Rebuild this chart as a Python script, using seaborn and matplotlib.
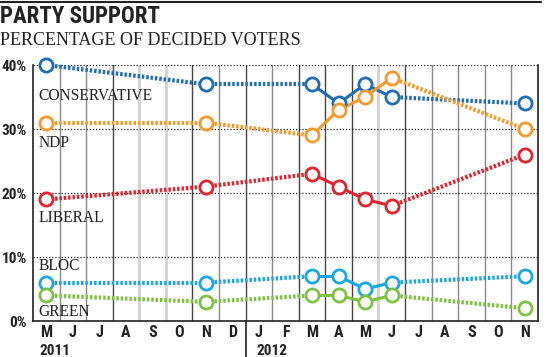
import matplotlib
matplotlib.use("Agg")
import matplotlib.pyplot as plt
import matplotlib.transforms as mtransforms
import pandas as pd
import seaborn as sns

# poll months, indexed from May 2011 (0) to Nov 2012 (18)
poll_months = [0, 6, 10, 11, 12, 13, 18]

conservative = [40, 37, 37, 34, 37, 35, 34]
ndp = [31, 31, 29, 33, 35, 38, 30]
liberal = [19, 21, 23, 21, 19, 18, 26]
bloc = [6, 6, 7, 7, 5, 6, 7]
green = [4, 3, 4, 4, 3, 4, 2]

parties = ["CONSERVATIVE", "NDP", "LIBERAL", "BLOC", "GREEN"]
colors = ["#1f6db3", "#f39a2b", "#e0242f", "#1ca7e0", "#7dc242"]

month_labels = ["M", "J", "J", "A", "S", "O", "N", "D",
                "J", "F", "M", "A", "M", "J", "J", "A", "S", "O", "N"]
year_labels = ["2011", "2012"]
y_ticks = [0, 10, 20, 30, 40]

sans = ["Roboto Condensed", "Liberation Sans Narrow", "Roboto", "DejaVu Sans"]
serif = ["Liberation Serif", "DejaVu Serif"]

sns.set_style("white")
plt.rcParams["font.family"] = sans

rows = []
for party, vals in zip(parties, [conservative, ndp, liberal, bloc, green]):
    for m, v in zip(poll_months, vals):
        rows.append({"party": party, "x": m + 0.5, "month": m, "value": v})
df = pd.DataFrame(rows)

fig = plt.figure(figsize=(5.5, 3.57), dpi=100)
ax = fig.add_axes([0.06, 0.1008, 0.918, 0.717])

# vertical month dividers
dark = {3, 6, 8, 10, 11, 12, 14}
light = {4, 5, 13}
for k in range(1, 19):
    if k in light:
        ax.axvline(k, color="#d4d4d4", lw=2.2, zorder=0)
    elif k in dark:
        ax.axvline(k, color="#444444", lw=1.0, zorder=0)
    else:
        ax.axvline(k, color="#8a8a8a", lw=1.0, zorder=0)

for yv in y_ticks[1:]:
    ax.axhline(yv, color="#222222", lw=0.9, ls=(0, (1, 1.5)), zorder=0.5)

# lines: solid between consecutive months, dotted across gaps
for party, col in zip(parties, colors):
    sub = df[df["party"] == party].reset_index(drop=True)
    for i in range(len(sub) - 1):
        seg = sub.iloc[i:i + 2]
        gap = seg["month"].iloc[1] - seg["month"].iloc[0]
        if gap == 1:
            sns.lineplot(data=seg, x="x", y="value", color=col, lw=2.2,
                         ax=ax, zorder=2, clip_on=False)
        else:
            sns.lineplot(data=seg, x="x", y="value", color=col, lw=3.0,
                         ax=ax, zorder=2, clip_on=False,
                         dashes=False, linestyle=(0, (0.6, 0.45)))
    sns.scatterplot(data=sub, x="x", y="value", ax=ax, s=90, marker="o",
                    facecolor="white", edgecolor=col, linewidth=2.0,
                    zorder=3, clip_on=False)

label_y = {"CONSERVATIVE": 35.2, "NDP": 27.8, "LIBERAL": 16.1,
           "BLOC": 8.6, "GREEN": 1.4}
for party in parties:
    ax.text(0.2, label_y[party], party, family=serif, fontsize=11.2,
            color="#222222", va="center", ha="left")

ax.set_xlim(0, 19)
ax.set_ylim(0, 40)
ax.set_xticks(range(0, 20))
ax.set_xticklabels([])
ax.set_xticks([k + 0.5 for k in range(19)], minor=True)
ax.set_xticklabels(month_labels, minor=True)
ax.tick_params(axis="x", which="major", length=8, width=1.0,
               color="#222222", direction="out")
ax.tick_params(axis="x", which="minor", length=0, pad=3,
               labelsize=11.5, labelcolor="#222222")
for t in ax.get_xticklabels(minor=True):
    t.set_fontweight("bold")

ax.set_yticks(y_ticks)
ax.set_yticklabels([f"{v}%" for v in y_ticks])
ax.tick_params(axis="y", length=0, pad=4.5, labelsize=11,
               labelcolor="#222222")
for t in ax.get_yticklabels():
    t.set_fontweight("bold")

ax.set_xlabel("")
ax.set_ylabel("")
ax.spines["top"].set_visible(False)
for side in ["left", "bottom", "right"]:
    ax.spines[side].set_color("#222222")
    ax.spines[side].set_linewidth(1.2)

trans = mtransforms.blended_transform_factory(ax.transData, fig.transFigure)
ax.text(0.26, 0.036, year_labels[0], transform=trans, fontsize=11,
        fontweight="bold", color="#222222", ha="left", va="top")
ax.text(8.4, 0.036, year_labels[1], transform=trans, fontsize=11,
        fontweight="bold", color="#222222", ha="left", va="top")
ax.plot([8, 8], [0, 0.1008], transform=trans, color="#222222", lw=1.2,
        clip_on=False)

fig.add_artist(plt.Line2D([0, 0.984], [0.994, 0.994], color="#222222", lw=1.5))
fig.text(0.0, 0.922, "PARTY SUPPORT", fontsize=16.5, fontweight="bold",
         color="#222222", ha="left", va="bottom")
fig.text(0.0, 0.862, "PERCENTAGE OF DECIDED VOTERS", family=serif,
         fontsize=13, color="#222222", ha="left", va="bottom")

fig.savefig("out.png", dpi=100)
